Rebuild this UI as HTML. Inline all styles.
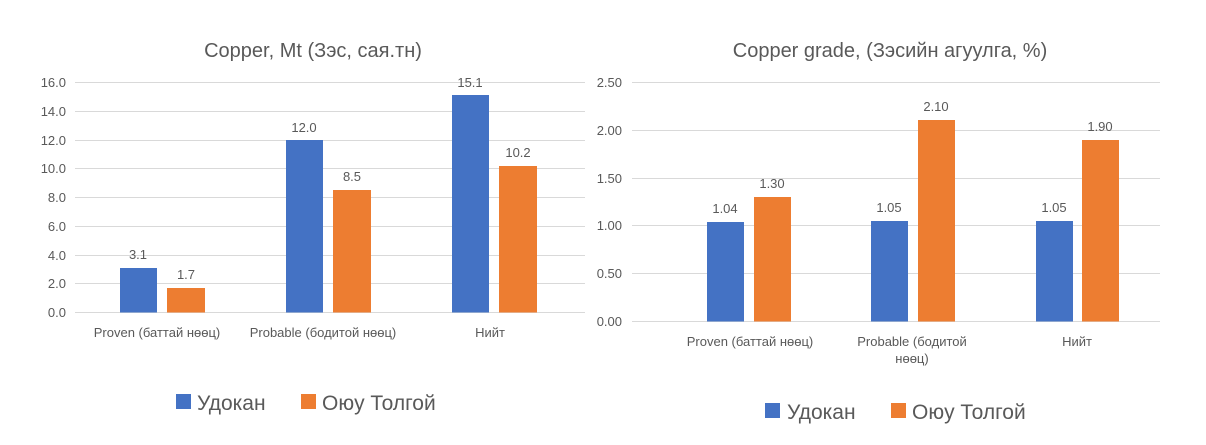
<!DOCTYPE html>
<html><head><meta charset="utf-8"><style>
body{margin:0;background:#fff;}
svg text{font-family:"Liberation Sans","DejaVu Sans",sans-serif;fill:#595959;}
</style></head><body>
<svg width="1206" height="440" xmlns="http://www.w3.org/2000/svg">
<rect width="1206" height="440" fill="#fff"/>
<!-- Left chart -->
<text x="313" y="57" font-size="20" text-anchor="middle">Copper, Mt (Зэс, сая.тн)</text>
<g stroke="#d9d9d9" stroke-width="1">
<line x1="75" x2="585" y1="82.5" y2="82.5"/><line x1="75" x2="585" y1="111.5" y2="111.5"/>
<line x1="75" x2="585" y1="140.5" y2="140.5"/><line x1="75" x2="585" y1="168.5" y2="168.5"/>
<line x1="75" x2="585" y1="197.5" y2="197.5"/><line x1="75" x2="585" y1="226.5" y2="226.5"/>
<line x1="75" x2="585" y1="255.5" y2="255.5"/><line x1="75" x2="585" y1="283.5" y2="283.5"/>
<line x1="75" x2="585" y1="312.5" y2="312.5"/>
</g>
<g font-size="13" text-anchor="end">
<text x="66" y="87">16.0</text><text x="66" y="116">14.0</text><text x="66" y="145">12.0</text>
<text x="66" y="173">10.0</text><text x="66" y="202">8.0</text><text x="66" y="231">6.0</text>
<text x="66" y="260">4.0</text><text x="66" y="288">2.0</text><text x="66" y="317">0.0</text>
</g>
<rect x="120" y="268" width="37" height="44.5" fill="#4472c4"/>
<rect x="167" y="288" width="38" height="24.5" fill="#ed7d31"/>
<rect x="286" y="140" width="37" height="172.5" fill="#4472c4"/>
<rect x="333" y="190" width="38" height="122.5" fill="#ed7d31"/>
<rect x="452" y="95" width="37" height="217.5" fill="#4472c4"/>
<rect x="499" y="166" width="38" height="146.5" fill="#ed7d31"/>
<g font-size="13" text-anchor="middle" style="fill:#404040">
<text x="138" y="259">3.1</text><text x="186" y="279">1.7</text>
<text x="304" y="132">12.0</text><text x="352" y="181">8.5</text>
<text x="470" y="87">15.1</text><text x="518" y="157">10.2</text>
</g>
<g font-size="13" text-anchor="middle">
<text x="157" y="337">Proven (баттай нөөц)</text>
<text x="323" y="337">Probable (бодитой нөөц)</text>
<text x="490" y="337">Нийт</text>
</g>
<rect x="176" y="394" width="15" height="15" fill="#4472c4"/>
<text x="197" y="410" font-size="21">Удокан</text>
<rect x="301" y="394" width="15" height="15" fill="#ed7d31"/>
<text x="322" y="410" font-size="21">Оюу Толгой</text>

<!-- Right chart -->
<text x="890" y="57" font-size="20" text-anchor="middle">Copper grade, (Зэсийн агуулга, %)</text>
<g stroke="#d9d9d9" stroke-width="1">
<line x1="632" x2="1160" y1="82.5" y2="82.5"/><line x1="632" x2="1160" y1="130.5" y2="130.5"/>
<line x1="632" x2="1160" y1="178.5" y2="178.5"/><line x1="632" x2="1160" y1="225.5" y2="225.5"/>
<line x1="632" x2="1160" y1="273.5" y2="273.5"/><line x1="632" x2="1160" y1="321.5" y2="321.5"/>
</g>
<g font-size="13" text-anchor="end">
<text x="622" y="87">2.50</text><text x="622" y="135">2.00</text><text x="622" y="183">1.50</text>
<text x="622" y="230">1.00</text><text x="622" y="278">0.50</text><text x="622" y="326">0.00</text>
</g>
<rect x="707" y="222" width="37" height="99.5" fill="#4472c4"/>
<rect x="754" y="197" width="37" height="124.5" fill="#ed7d31"/>
<rect x="871" y="221" width="37" height="100.5" fill="#4472c4"/>
<rect x="918" y="120" width="37" height="201.5" fill="#ed7d31"/>
<rect x="1036" y="221" width="37" height="100.5" fill="#4472c4"/>
<rect x="1082" y="140" width="37" height="181.5" fill="#ed7d31"/>
<g font-size="13" text-anchor="middle" style="fill:#404040">
<text x="725" y="213">1.04</text><text x="772" y="188">1.30</text>
<text x="889" y="212">1.05</text><text x="936" y="111">2.10</text>
<text x="1054" y="212">1.05</text><text x="1100" y="131">1.90</text>
</g>
<g font-size="13" text-anchor="middle">
<text x="750" y="346">Proven (баттай нөөц)</text>
<text x="912" y="346">Probable (бодитой</text>
<text x="912" y="363">нөөц)</text>
<text x="1077" y="346">Нийт</text>
</g>
<rect x="765" y="403" width="15" height="15" fill="#4472c4"/>
<text x="787" y="419" font-size="21">Удокан</text>
<rect x="891" y="403" width="15" height="15" fill="#ed7d31"/>
<text x="912" y="419" font-size="21">Оюу Толгой</text>
</svg>
</body></html>
